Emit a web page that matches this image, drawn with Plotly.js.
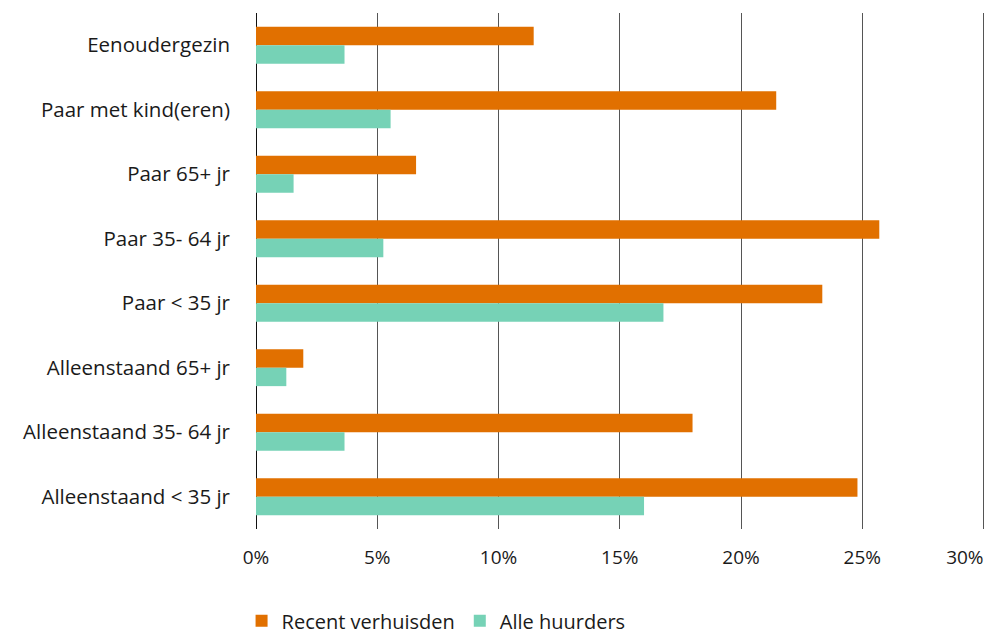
<!DOCTYPE html>
<html>
<head>
<meta charset="utf-8">
<script src="https://cdn.plot.ly/plotly-3.0.1.min.js"></script>
<style>html,body{margin:0;padding:0;background:#fff;}#chart{width:986px;height:636px;}</style>
</head>
<body>
<div id="chart"></div>
<script>
const categories = ["Eenoudergezin", "Paar met kind(eren)", "Paar 65+ jr", "Paar 35- 64 jr", "Paar < 35 jr", "Alleenstaand 65+ jr", "Alleenstaand 35- 64 jr", "Alleenstaand < 35 jr"];
const recentVerhuisden = [11.45, 21.45, 6.6, 25.7, 23.35, 1.95, 18.0, 24.8];
const alleHuurders = [3.65, 5.55, 1.55, 5.25, 16.8, 1.25, 3.65, 16.0];
const seriesNames = ["Recent verhuisden", "Alle huurders"];
const tickVals = [0, 5, 10, 15, 20, 25, 30];
const tickText = ["0%", "5%", "10%", "15%", "20%", "25%", "30%"];

const fontFamily = "'Open Sans', sans-serif";
const lastIdx = tickVals.length - 1;
const traces = [
  {type: "bar", orientation: "h", name: seriesNames[0], y: categories, x: recentVerhuisden,
   marker: {color: "#e17000"}, hoverinfo: "x+y"},
  {type: "bar", orientation: "h", name: seriesNames[1], y: categories, x: alleHuurders,
   marker: {color: "#76d2b6"}, hoverinfo: "x+y"},
  // empty helper trace so the overlay axis carrying the right-aligned last tick label is drawn
  {type: "scatter", mode: "markers", x: [], y: [], xaxis: "x2", yaxis: "y", showlegend: false, hoverinfo: "skip"}
];
const tickFont = {family: fontFamily, size: 19, color: "#1a1a1a"};
const layout = {
  width: 986, height: 636,
  margin: {l: 256, r: 0, t: 13, b: 107, autoexpand: false},
  paper_bgcolor: "#fff", plot_bgcolor: "#fff",
  font: {family: fontFamily, size: 20, color: "#1a1a1a"},
  barmode: "group", bargap: 0.43, bargroupgap: 0,
  showlegend: true,
  legend: {orientation: "h", x: 0.245, xref: "container", xanchor: "left", y: 0.024, yref: "container", yanchor: "middle",
           font: {family: fontFamily, size: 20, color: "#1a1a1a"}, traceorder: "normal"},
  xaxis: {range: [0, 30.1], tickvals: tickVals, ticktext: tickText.map((t, i) => i === lastIdx ? "" : t),
          showgrid: true, gridcolor: "#555", gridwidth: 1,
          zeroline: true, zerolinecolor: "#111", zerolinewidth: 1, showline: false, ticks: "",
          automargin: false, ticklabelstandoff: 15, tickfont: tickFont, fixedrange: true},
  xaxis2: {overlaying: "x", anchor: "y", side: "bottom", range: [0, 30.1],
           tickvals: [tickVals[lastIdx]], ticktext: [tickText[lastIdx]], ticklabelposition: "outside left",
           showgrid: false, zeroline: false, showline: false, ticks: "", automargin: false,
           ticklabelstandoff: 15, tickfont: tickFont, fixedrange: true},
  yaxis: {autorange: "reversed", showgrid: false, zeroline: false, showline: false, ticks: "",
          ticklabelstandoff: 25, tickfont: {family: fontFamily, size: 20.5, color: "#1a1a1a"}, fixedrange: true}
};
Plotly.newPlot("chart", traces, layout, {displayModeBar: false, staticPlot: true});
</script>
</body>
</html>
